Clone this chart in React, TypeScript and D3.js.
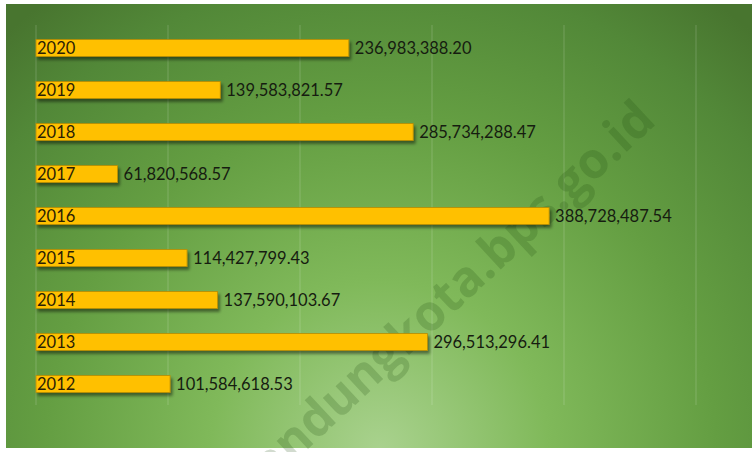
import React from "react";
import * as d3 from "d3";

const years = ["2020", "2019", "2018", "2017", "2016", "2015", "2014", "2013", "2012"];
const values = [
  236983388.2, 139583821.57, 285734288.47, 61820568.57, 388728487.54,
  114427799.43, 137590103.67, 296513296.41, 101584618.53,
];
const gridTicks = [0, 100000000, 200000000, 300000000, 400000000, 500000000];
const watermark = "bandungkota.bps.go.id";

const W = 752;
const H = 452;

export default function App() {
  const x = d3.scaleLinear().domain([0, 500000000]).range([36, 696]);
  const y = d3.scaleBand<string>().domain(years).range([27, 405]).paddingInner(0.6).paddingOuter(0.3);
  const fmt = d3.format(",.2f");
  const font = "Lato, 'Open Sans', sans-serif";

  return (
    <svg width={W} height={H} style={{ position: "absolute", left: 0, top: 0 }}>
      <defs>
        <radialGradient id="bg" gradientUnits="userSpaceOnUse" cx={380} cy={450} r={560}>
          <stop offset="0" stopColor="#a9d28e" />
          <stop offset="0.3" stopColor="#80b95a" />
          <stop offset="0.6" stopColor="#649e42" />
          <stop offset="0.85" stopColor="#528838" />
          <stop offset="1" stopColor="#48752f" />
        </radialGradient>
        <filter id="shadow" x="-10%" y="-50%" width="130%" height="250%">
          <feDropShadow dx={2} dy={3} stdDeviation={1.5} floodColor="#000" floodOpacity={0.45} />
        </filter>
      </defs>
      <rect x={0} y={0} width={W} height={H} fill="#ffffff" />
      <rect x={6} y={4} width={W - 6} height={444} fill="url(#bg)" />
      {gridTicks.map((t) => (
        <line key={t} x1={x(t)} x2={x(t)} y1={25} y2={405} stroke="#ffffff" strokeOpacity={0.18} strokeWidth={1} />
      ))}
      <text
        x={440}
        y={300}
        transform="rotate(-43 440 300)"
        textAnchor="middle"
        dominantBaseline="central"
        fontFamily="'Open Sans', sans-serif"
        fontWeight="bold"
        fontSize={50}
        textLength={560}
        lengthAdjust="spacingAndGlyphs"
        fill="#1e4a10"
        fillOpacity={0.2}
      >
        {watermark}
      </text>
      {years.map((yr, i) => {
        const yy = y(yr) as number;
        const bw = y.bandwidth();
        const cy = yy + bw / 2;
        return (
          <g key={yr}>
            <rect
              x={x(0)}
              y={yy}
              width={x(values[i]) - x(0)}
              height={bw}
              fill="#ffc000"
              stroke="#b98c00"
              strokeWidth={0.8}
              filter="url(#shadow)"
            />
            <text x={x(0) + 1} y={cy} dy="0.36em" fontFamily={font} fontSize={16.5} fill="#2a1e05">
              {yr}
            </text>
            <text x={x(values[i]) + 6} y={cy} dy="0.36em" fontFamily={font} fontSize={16.5} fill="#161c10">
              {fmt(values[i])}
            </text>
          </g>
        );
      })}
    </svg>
  );
}
